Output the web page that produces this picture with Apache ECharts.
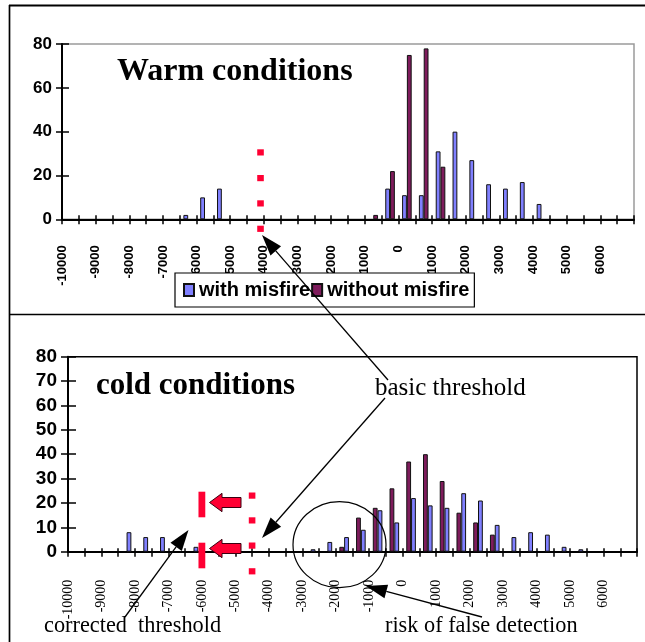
<!DOCTYPE html>
<html>
<head>
<meta charset="utf-8">
<script src="https://cdn.jsdelivr.net/npm/echarts@6/dist/echarts.min.js"></script>
<style>
  html, body { margin: 0; padding: 0; background: #fff; overflow: hidden; }
  #chart { width: 645px; height: 642px; }
</style>
</head>
<body>
<div id="chart"></div>
<script>
// Histogram bins, 500 wide, labelled by their lower edge
const bins = ['-10000','-9500','-9000','-8500','-8000','-7500','-7000','-6500','-6000','-5500',
              '-5000','-4500','-4000','-3500','-3000','-2500','-2000','-1500','-1000','-500',
              '0','500','1000','1500','2000','2500','3000','3500','4000','4500',
              '5000','5500','6000','6500'];

// Warm conditions: counts per bin
const warmWithMisfire    = [0,0,0,0,0,0,0,2,10,14, 0,0,0,0,0,0,0,0,0,14, 11,11,31,40,27,16,14,17,7,0, 0,0,0,0];
const warmWithoutMisfire = [0,0,0,0,0,0,0,0,0,0, 0,0,0,0,0,0,0,0,2,22, 75,78,24,0,0,0,0,0,0,0, 0,0,0,0];

// Cold conditions: counts per bin
const coldWithMisfire    = [0,0,0,8,6,6,0,2,0,0, 0,0,0,0,1,4,6,9,17,12, 22,19,18,24,21,11,6,8,7,2, 1,0,0,0];
const coldWithoutMisfire = [0,0,0,0,0,0,0,0,0,0, 0,0,0,0,0,0,2,14,18,26, 37,40,29,16,12,7,0,0,0,0, 0,0,0,0];

// Axis tick labels
const xTickLabels = [-10000,-9000,-8000,-7000,-6000,-5000,-4000,-3000,-2000,-1000,0,1000,2000,3000,4000,5000,6000];
const warmYTicks = [0,20,40,60,80];
const coldYTicks = [0,10,20,30,40,50,60,70,80];

// Threshold positions on the x scale
const warmBasicThreshold = -4100;
const coldBasicThreshold = -4500;
const coldCorrectedThreshold = -6000;

const X_MIN = -10000, X_MAX = 7000;
const BLUE = '#8080FF', PURPLE = '#7E1C5C', RED = '#FF0033';
const SANS = '"Liberation Sans", Arial, sans-serif';
const SERIF = '"Liberation Serif", "Times New Roman", serif';

const chart = echarts.init(document.getElementById('chart'), null, { renderer: 'canvas' });

const asBars = arr => arr.map(v => (v === 0 ? null : v));
const xFmt = v => (xTickLabels.indexOf(v) >= 0 ? String(v) : '');

function valueXAxis(grid, labelStyle, tickLen, margin) {
  return {
    type: 'value', gridIndex: grid, position: 'bottom', min: X_MIN, max: X_MAX, interval: 500,
    axisLine: { show: true, onZero: false, lineStyle: { color: '#000', width: 2 } },
    axisTick: { show: true, inside: false, length: tickLen, lineStyle: { color: '#000', width: 1.5 } },
    axisLabel: Object.assign({ show: true, rotate: 90, margin: margin, formatter: xFmt,
      showMinLabel: true, showMaxLabel: true, color: '#000', padding: [0, 0, 7, 0] }, labelStyle),
    splitLine: { show: false }
  };
}
function innerXAxis(grid, tickLen) {
  return {
    type: 'value', gridIndex: grid, position: 'bottom', min: X_MIN, max: X_MAX, interval: 500,
    axisLine: { show: false, onZero: false },
    axisTick: { show: true, inside: true, length: tickLen, lineStyle: { color: '#000', width: 1.5 } },
    axisLabel: { show: false }, splitLine: { show: false }
  };
}
function binAxis(grid) {
  return {
    type: 'category', gridIndex: grid, data: bins, boundaryGap: true, position: 'bottom',
    axisLine: { show: false, onZero: false }, axisTick: { show: false },
    axisLabel: { show: false }, splitLine: { show: false }
  };
}
function countYAxis(grid, ticks, fontSize, tickLen, margin) {
  return {
    type: 'value', gridIndex: grid, position: 'left', min: ticks[0], max: ticks[ticks.length - 1],
    interval: ticks[1] - ticks[0],
    axisLine: { show: true, onZero: false, lineStyle: { color: '#000', width: 2 } },
    axisTick: { show: true, length: tickLen, lineStyle: { color: '#000', width: 1.5 } },
    axisLabel: { show: true, margin: margin, color: '#000', fontFamily: SANS, fontWeight: 'bold', fontSize: fontSize },
    splitLine: { show: false }
  };
}
function innerYAxis(grid, ticks, tickLen) {
  return {
    type: 'value', gridIndex: grid, position: 'left', offset: 0, min: ticks[0], max: ticks[ticks.length - 1],
    interval: ticks[1] - ticks[0],
    axisLine: { show: false, onZero: false },
    axisTick: { show: true, inside: true, length: tickLen, lineStyle: { color: '#000', width: 1.5 } },
    axisLabel: { show: false }, splitLine: { show: false }
  };
}
function barSeries(name, data, xi, yi, color) {
  return {
    name: name, type: 'bar', xAxisIndex: xi, yAxisIndex: yi, data: asBars(data),
    barWidth: 4.8, barGap: '0%',
    itemStyle: { color: color, borderColor: '#111', borderWidth: 1 },
    emphasis: { disabled: true }, animation: false
  };
}

const option = {
  animation: false,
  backgroundColor: '#fff',
  grid: [
    { left: 62, top: 44, width: 572, height: 175.3, show: true, borderColor: '#9a9a9a', borderWidth: 1.5,
      backgroundColor: 'transparent', containLabel: false, outerBoundsMode: 'none' },
    { left: 68, top: 356.7, width: 569, height: 195, show: true, borderColor: '#000', borderWidth: 1.5,
      backgroundColor: 'transparent', containLabel: false, outerBoundsMode: 'none' }
  ],
  xAxis: [
    binAxis(0),
    valueXAxis(0, { fontFamily: SANS, fontWeight: 'bold', fontSize: 13 }, 5, 26),
    innerXAxis(0, 4),
    binAxis(1),
    valueXAxis(1, { fontFamily: SERIF, fontWeight: 'normal', fontSize: 14 }, 5, 28),
    innerXAxis(1, 3.5)
  ],
  yAxis: [
    countYAxis(0, warmYTicks, 17, 6, 10),
    innerYAxis(0, warmYTicks, 7),
    countYAxis(1, coldYTicks, 19, 7, 11),
    innerYAxis(1, coldYTicks, 8)
  ],
  legend: {
    data: ['with misfire', 'without misfire'],
    left: 175, top: 273, orient: 'horizontal',
    icon: 'rect', itemWidth: 10, itemHeight: 12, itemGap: 1,
    padding: [7, 5, 7, 8],
    backgroundColor: '#fff', borderColor: '#000', borderWidth: 1.2,
    textStyle: { fontFamily: SANS, fontWeight: 'bold', fontSize: 20, color: '#000' },
    selectedMode: false, z: 10
  },
  series: [
    barSeries('with misfire', warmWithMisfire, 0, 0, BLUE),
    barSeries('without misfire', warmWithoutMisfire, 0, 0, PURPLE),
    barSeries('without misfire', coldWithoutMisfire, 3, 2, PURPLE),
    barSeries('with misfire', coldWithMisfire, 3, 2, BLUE)
  ]
};
chart.setOption(option);

// ---- annotations ----
function arrow(x1, y1, x2, y2) {
  const len = 21, half = 7;
  const dx = x2 - x1, dy = y2 - y1, d = Math.hypot(dx, dy);
  const ux = dx / d, uy = dy / d;
  const bx = x2 - ux * len, by = y2 - uy * len;
  return [
    { type: 'line', z: 100, shape: { x1: x1, y1: y1, x2: bx, y2: by }, style: { stroke: '#000', lineWidth: 1.3 } },
    { type: 'polygon', z: 100, shape: { points: [[x2, y2], [bx - uy * half, by + ux * half], [bx + uy * half, by - ux * half]] },
      style: { fill: '#000' } }
  ];
}
function redArrow(cy) {
  return {
    type: 'polygon', z: 100,
    shape: { points: [[209.5, cy], [222, cy - 9.2], [222, cy - 5], [241, cy - 5], [241, cy + 5], [222, cy + 5], [222, cy + 9.2]] },
    style: { fill: RED, stroke: '#3a0010', lineWidth: 1 }
  };
}
function dots(cx, tops) {
  return tops.map(t => ({ type: 'rect', z: 100, shape: { x: cx - 3.3, y: t, width: 6.6, height: 6.2 }, style: { fill: RED } }));
}
function label(text, x, y, font) {
  return { type: 'text', z: 100, style: { text: text, x: x, y: y, font: font, fill: '#000',
    textAlign: 'left', textVerticalAlign: 'middle', align: 'left', verticalAlign: 'middle' } };
}

const warmX = chart.convertToPixel({ xAxisIndex: 1 }, warmBasicThreshold);
const coldX = chart.convertToPixel({ xAxisIndex: 4 }, coldBasicThreshold);
const corrX = chart.convertToPixel({ xAxisIndex: 4 }, coldCorrectedThreshold);

const elements = [
  // page frame
  { type: 'line', z: 90, shape: { x1: 9, y1: 5.5, x2: 645, y2: 5.5 }, style: { stroke: '#000', lineWidth: 2 } },
  { type: 'line', z: 90, shape: { x1: 9.5, y1: 5, x2: 9.5, y2: 642 }, style: { stroke: '#000', lineWidth: 1.7 } },
  { type: 'line', z: 90, shape: { x1: 9, y1: 314.5, x2: 645, y2: 314.5 }, style: { stroke: '#000', lineWidth: 1.7 } },

  // titles and notes
  label('Warm conditions', 117, 71.5, 'bold 32px ' + SERIF),
  label('cold conditions', 96, 386, 'bold 31px ' + SERIF),
  label('basic threshold', 375, 388.5, '25px ' + SERIF),
  label('corrected  threshold', 44, 626, '22.3px ' + SERIF),
  label('risk of false detection', 385, 626, '22.3px ' + SERIF),

  // region around the overlap of the two distributions
  { type: 'ellipse', z: 100, shape: { cx: 339.5, cy: 544.7, rx: 46.5, ry: 43 },
    style: { fill: 'none', stroke: '#000', lineWidth: 1.2 } },

  // corrected threshold marks
  { type: 'rect', z: 100, shape: { x: corrX - 3.4, y: 491.7, width: 6.8, height: 25.6 }, style: { fill: RED } },
  { type: 'rect', z: 100, shape: { x: corrX - 3.4, y: 542.7, width: 6.8, height: 25.6 }, style: { fill: RED } },
  redArrow(502.5),
  redArrow(548.5)
]
  .concat(dots(warmX, [149.3, 175, 200.3, 225.7]))
  .concat(dots(coldX, [492.5, 517.3, 542.5, 568.2]))
  .concat(arrow(388, 380, 262, 235))
  .concat(arrow(385, 398, 262, 538))
  .concat(arrow(125, 617, 188.5, 530))
  .concat(arrow(482, 617, 366, 586));

chart.setOption({ graphic: { elements: elements } });
</script>
</body>
</html>
